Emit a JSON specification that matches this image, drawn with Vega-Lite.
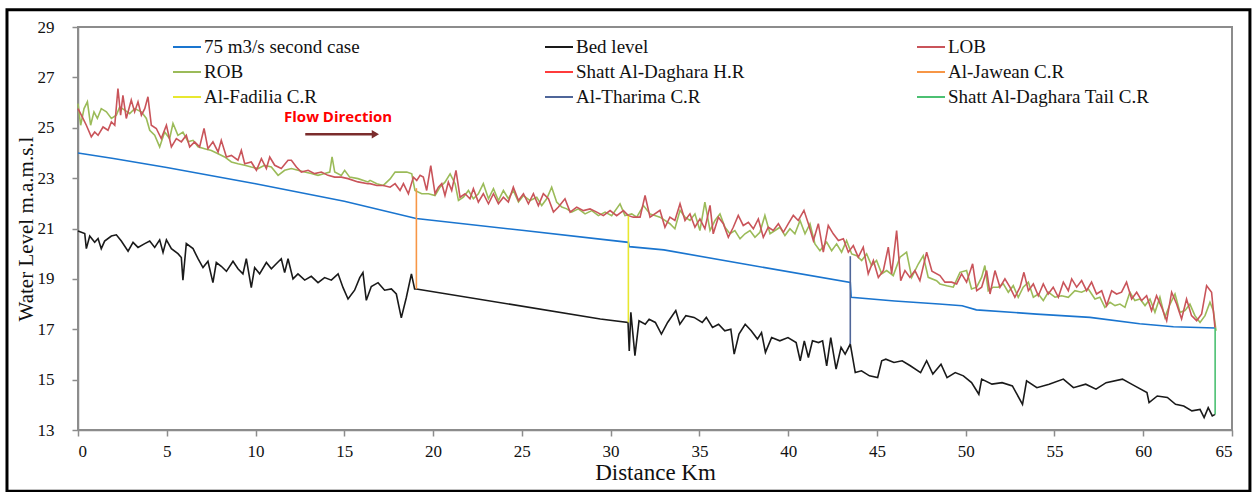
{
"$schema":"https://vega.github.io/schema/vega-lite/v6.json",
"width":1154,"height":403,
"autosize":{"type":"none"},
"padding":{"left":78,"top":27,"right":25,"bottom":62},
"background":"white",
"config":{
 "view":{"stroke":"#8c8c8c","strokeWidth":2},
 "font":"Liberation Serif",
 "axis":{"domainColor":"#8c8c8c","domainWidth":1.5,"tickColor":"#8c8c8c","tickWidth":1.5,"tickSize":6,"grid":false,"labelFont":"Liberation Serif","labelFontSize":17,"labelColor":"#111111","titleFont":"Liberation Serif","titleFontWeight":"normal","titleColor":"#111111"},
 "axisX":{"labelPadding":7,"titleFontSize":23,"titlePadding":2},
 "axisY":{"labelPadding":18,"titleFontSize":21,"titlePadding":1}
},
"datasets":{
"frame":[{"x1":-4.0,"x2":66.01,"y1":10.57,"y2":29.68}],
"arrow":[{"km":12.8,"level":24.74},{"km":16.6,"level":24.74}],
"head":[{"km":16.75,"level":24.74}],
"notes":[{"km":14.65,"level":25.41,"label":"Flow Direction"}],
"lines":[
{"series":"75 m3/s second case","km":0,"level":24.0},
{"series":"75 m3/s second case","km":2,"level":23.78},
{"series":"75 m3/s second case","km":5,"level":23.42},
{"series":"75 m3/s second case","km":10,"level":22.78},
{"series":"75 m3/s second case","km":15,"level":22.08},
{"series":"75 m3/s second case","km":19.05,"level":21.4},
{"series":"75 m3/s second case","km":25,"level":20.93},
{"series":"75 m3/s second case","km":31,"level":20.45},
{"series":"75 m3/s second case","km":31.05,"level":20.28},
{"series":"75 m3/s second case","km":33,"level":20.15},
{"series":"75 m3/s second case","km":38,"level":19.53},
{"series":"75 m3/s second case","km":43.5,"level":18.86},
{"series":"75 m3/s second case","km":43.55,"level":18.27},
{"series":"75 m3/s second case","km":46,"level":18.12},
{"series":"75 m3/s second case","km":48.5,"level":18.0},
{"series":"75 m3/s second case","km":49.8,"level":17.93},
{"series":"75 m3/s second case","km":50.6,"level":17.77},
{"series":"75 m3/s second case","km":54,"level":17.6},
{"series":"75 m3/s second case","km":57,"level":17.47},
{"series":"75 m3/s second case","km":59.8,"level":17.22},
{"series":"75 m3/s second case","km":61.7,"level":17.1},
{"series":"75 m3/s second case","km":64.05,"level":17.05},
{"series":"Bed level","km":0,"level":20.9},
{"series":"Bed level","km":0.38,"level":20.8},
{"series":"Bed level","km":0.47,"level":20.2},
{"series":"Bed level","km":0.66,"level":20.7},
{"series":"Bed level","km":0.94,"level":20.45},
{"series":"Bed level","km":1.13,"level":20.6},
{"series":"Bed level","km":1.31,"level":20.2},
{"series":"Bed level","km":1.5,"level":20.5},
{"series":"Bed level","km":1.88,"level":20.7},
{"series":"Bed level","km":2.16,"level":20.75},
{"series":"Bed level","km":2.44,"level":20.5},
{"series":"Bed level","km":2.82,"level":20.1},
{"series":"Bed level","km":3.1,"level":20.45},
{"series":"Bed level","km":3.38,"level":20.25},
{"series":"Bed level","km":3.76,"level":20.4},
{"series":"Bed level","km":4.04,"level":20.5},
{"series":"Bed level","km":4.32,"level":20.25},
{"series":"Bed level","km":4.6,"level":20.55},
{"series":"Bed level","km":4.79,"level":20.05},
{"series":"Bed level","km":4.98,"level":20.55},
{"series":"Bed level","km":5.26,"level":20.2},
{"series":"Bed level","km":5.63,"level":20.0},
{"series":"Bed level","km":5.82,"level":19.85},
{"series":"Bed level","km":5.91,"level":18.95},
{"series":"Bed level","km":6.1,"level":20.4},
{"series":"Bed level","km":6.48,"level":20.2},
{"series":"Bed level","km":6.76,"level":19.8},
{"series":"Bed level","km":7.04,"level":19.45},
{"series":"Bed level","km":7.32,"level":19.7},
{"series":"Bed level","km":7.6,"level":18.85},
{"series":"Bed level","km":7.79,"level":19.65},
{"series":"Bed level","km":8.07,"level":19.5},
{"series":"Bed level","km":8.36,"level":19.3},
{"series":"Bed level","km":8.73,"level":19.7},
{"series":"Bed level","km":9.01,"level":19.4},
{"series":"Bed level","km":9.29,"level":19.2},
{"series":"Bed level","km":9.48,"level":19.8},
{"series":"Bed level","km":9.76,"level":18.65},
{"series":"Bed level","km":9.95,"level":19.45},
{"series":"Bed level","km":10.23,"level":19.2},
{"series":"Bed level","km":10.61,"level":19.65},
{"series":"Bed level","km":10.89,"level":19.4},
{"series":"Bed level","km":11.17,"level":19.6},
{"series":"Bed level","km":11.45,"level":19.8},
{"series":"Bed level","km":11.64,"level":19.25},
{"series":"Bed level","km":11.83,"level":19.8},
{"series":"Bed level","km":12.11,"level":19.0},
{"series":"Bed level","km":12.39,"level":19.2},
{"series":"Bed level","km":12.77,"level":18.95},
{"series":"Bed level","km":13.14,"level":19.1},
{"series":"Bed level","km":13.52,"level":18.85},
{"series":"Bed level","km":13.89,"level":19.05},
{"series":"Bed level","km":14.27,"level":18.95},
{"series":"Bed level","km":14.65,"level":19.2},
{"series":"Bed level","km":14.93,"level":18.65},
{"series":"Bed level","km":15.21,"level":18.2},
{"series":"Bed level","km":15.58,"level":18.55},
{"series":"Bed level","km":15.87,"level":19.05},
{"series":"Bed level","km":16.05,"level":19.25},
{"series":"Bed level","km":16.24,"level":18.15},
{"series":"Bed level","km":16.52,"level":18.7},
{"series":"Bed level","km":16.9,"level":18.85},
{"series":"Bed level","km":17.27,"level":18.55},
{"series":"Bed level","km":17.65,"level":18.6},
{"series":"Bed level","km":17.93,"level":18.4},
{"series":"Bed level","km":18.21,"level":17.45},
{"series":"Bed level","km":18.49,"level":18.25},
{"series":"Bed level","km":18.78,"level":19.2},
{"series":"Bed level","km":18.96,"level":18.6},
{"series":"Bed level","km":19.06,"level":18.6},
{"series":"Bed level","km":29.42,"level":17.41},
{"series":"Bed level","km":30.98,"level":17.27},
{"series":"Bed level","km":31.05,"level":16.14},
{"series":"Bed level","km":31.14,"level":17.67},
{"series":"Bed level","km":31.37,"level":15.95},
{"series":"Bed level","km":31.6,"level":17.34},
{"series":"Bed level","km":31.95,"level":17.2},
{"series":"Bed level","km":32.17,"level":17.4},
{"series":"Bed level","km":32.52,"level":17.27},
{"series":"Bed level","km":32.86,"level":16.81},
{"series":"Bed level","km":33.21,"level":17.27},
{"series":"Bed level","km":33.67,"level":17.74},
{"series":"Bed level","km":33.9,"level":17.2},
{"series":"Bed level","km":34.24,"level":17.54},
{"series":"Bed level","km":34.7,"level":17.47},
{"series":"Bed level","km":35.16,"level":17.27},
{"series":"Bed level","km":35.39,"level":17.47},
{"series":"Bed level","km":35.74,"level":17.07},
{"series":"Bed level","km":36.08,"level":17.2},
{"series":"Bed level","km":36.43,"level":16.94},
{"series":"Bed level","km":36.77,"level":17.0},
{"series":"Bed level","km":36.96,"level":16.01},
{"series":"Bed level","km":37.23,"level":16.81},
{"series":"Bed level","km":37.58,"level":17.2},
{"series":"Bed level","km":37.92,"level":16.94},
{"series":"Bed level","km":38.27,"level":16.61},
{"series":"Bed level","km":38.5,"level":16.87},
{"series":"Bed level","km":38.72,"level":16.08},
{"series":"Bed level","km":39.07,"level":16.67},
{"series":"Bed level","km":39.53,"level":16.54},
{"series":"Bed level","km":39.99,"level":16.67},
{"series":"Bed level","km":40.45,"level":16.47},
{"series":"Bed level","km":40.68,"level":15.75},
{"series":"Bed level","km":40.91,"level":16.54},
{"series":"Bed level","km":41.14,"level":15.88},
{"series":"Bed level","km":41.37,"level":16.54},
{"series":"Bed level","km":41.71,"level":16.47},
{"series":"Bed level","km":41.94,"level":16.54},
{"series":"Bed level","km":42.17,"level":15.55},
{"series":"Bed level","km":42.4,"level":16.67},
{"series":"Bed level","km":42.7,"level":15.42},
{"series":"Bed level","km":42.98,"level":16.28},
{"series":"Bed level","km":43.21,"level":16.01},
{"series":"Bed level","km":43.5,"level":16.41},
{"series":"Bed level","km":43.78,"level":15.28},
{"series":"Bed level","km":44.13,"level":15.35},
{"series":"Bed level","km":44.58,"level":15.15},
{"series":"Bed level","km":45.04,"level":15.08},
{"series":"Bed level","km":45.27,"level":15.75},
{"series":"Bed level","km":45.5,"level":15.81},
{"series":"Bed level","km":45.96,"level":15.68},
{"series":"Bed level","km":46.42,"level":15.75},
{"series":"Bed level","km":46.88,"level":15.55},
{"series":"Bed level","km":47.46,"level":15.28},
{"series":"Bed level","km":47.8,"level":15.75},
{"series":"Bed level","km":48.15,"level":15.22},
{"series":"Bed level","km":48.61,"level":15.61},
{"series":"Bed level","km":48.95,"level":15.08},
{"series":"Bed level","km":49.41,"level":15.28},
{"series":"Bed level","km":49.87,"level":15.15},
{"series":"Bed level","km":50.33,"level":14.88},
{"series":"Bed level","km":50.74,"level":14.42},
{"series":"Bed level","km":50.9,"level":15.02},
{"series":"Bed level","km":51.48,"level":14.82},
{"series":"Bed level","km":52.05,"level":14.88},
{"series":"Bed level","km":52.63,"level":14.75},
{"series":"Bed level","km":53.2,"level":14.02},
{"series":"Bed level","km":53.43,"level":14.95},
{"series":"Bed level","km":54.01,"level":14.68},
{"series":"Bed level","km":54.7,"level":14.82},
{"series":"Bed level","km":55.5,"level":15.02},
{"series":"Bed level","km":56.07,"level":14.68},
{"series":"Bed level","km":56.76,"level":14.82},
{"series":"Bed level","km":57.34,"level":14.62},
{"series":"Bed level","km":57.91,"level":14.88},
{"series":"Bed level","km":58.83,"level":15.02},
{"series":"Bed level","km":59.52,"level":14.75},
{"series":"Bed level","km":60.21,"level":14.49},
{"series":"Bed level","km":60.33,"level":14.09},
{"series":"Bed level","km":60.79,"level":14.35},
{"series":"Bed level","km":61.36,"level":14.29},
{"series":"Bed level","km":61.82,"level":14.02},
{"series":"Bed level","km":62.28,"level":13.95},
{"series":"Bed level","km":62.74,"level":13.76},
{"series":"Bed level","km":63.2,"level":13.82},
{"series":"Bed level","km":63.43,"level":13.49},
{"series":"Bed level","km":63.66,"level":13.89},
{"series":"Bed level","km":63.89,"level":13.56},
{"series":"Bed level","km":64.05,"level":13.62},
{"series":"ROB","km":0,"level":25.96},
{"series":"ROB","km":0.15,"level":25.1},
{"series":"ROB","km":0.34,"level":25.76},
{"series":"ROB","km":0.53,"level":26.03},
{"series":"ROB","km":0.71,"level":25.1},
{"series":"ROB","km":0.9,"level":25.63},
{"series":"ROB","km":1.09,"level":25.37},
{"series":"ROB","km":1.31,"level":25.76},
{"series":"ROB","km":1.6,"level":25.63},
{"series":"ROB","km":1.88,"level":25.37},
{"series":"ROB","km":2.16,"level":25.5},
{"series":"ROB","km":2.35,"level":25.83},
{"series":"ROB","km":2.63,"level":25.7},
{"series":"ROB","km":2.91,"level":25.56},
{"series":"ROB","km":3.19,"level":25.76},
{"series":"ROB","km":3.57,"level":25.63},
{"series":"ROB","km":3.85,"level":25.37},
{"series":"ROB","km":4.04,"level":24.9},
{"series":"ROB","km":4.32,"level":24.7},
{"series":"ROB","km":4.6,"level":24.24},
{"series":"ROB","km":4.88,"level":24.83},
{"series":"ROB","km":5.16,"level":24.57},
{"series":"ROB","km":5.35,"level":25.17},
{"series":"ROB","km":5.63,"level":24.7},
{"series":"ROB","km":5.91,"level":24.83},
{"series":"ROB","km":6.2,"level":24.44},
{"series":"ROB","km":6.48,"level":24.5},
{"series":"ROB","km":6.76,"level":24.24},
{"series":"ROB","km":7.13,"level":24.17},
{"series":"ROB","km":7.51,"level":24.1},
{"series":"ROB","km":7.89,"level":23.97},
{"series":"ROB","km":8.26,"level":23.84},
{"series":"ROB","km":8.64,"level":23.64},
{"series":"ROB","km":9.01,"level":23.57},
{"series":"ROB","km":9.39,"level":23.51},
{"series":"ROB","km":9.76,"level":23.44},
{"series":"ROB","km":10.14,"level":23.38},
{"series":"ROB","km":10.51,"level":23.51},
{"series":"ROB","km":10.89,"level":23.44},
{"series":"ROB","km":11.27,"level":23.11},
{"series":"ROB","km":11.64,"level":23.31},
{"series":"ROB","km":12.02,"level":23.38},
{"series":"ROB","km":12.39,"level":23.31},
{"series":"ROB","km":12.77,"level":23.24},
{"series":"ROB","km":13.14,"level":23.18},
{"series":"ROB","km":13.52,"level":23.11},
{"series":"ROB","km":13.89,"level":23.18},
{"series":"ROB","km":14.18,"level":23.24},
{"series":"ROB","km":14.31,"level":23.84},
{"series":"ROB","km":14.46,"level":23.24},
{"series":"ROB","km":14.83,"level":23.11},
{"series":"ROB","km":15.02,"level":23.31},
{"series":"ROB","km":15.3,"level":23.04},
{"series":"ROB","km":15.77,"level":22.98},
{"series":"ROB","km":16.33,"level":22.85},
{"series":"ROB","km":16.45,"level":22.91},
{"series":"ROB","km":16.83,"level":22.78},
{"series":"ROB","km":17.2,"level":22.71},
{"series":"ROB","km":17.58,"level":22.97},
{"series":"ROB","km":17.86,"level":23.24},
{"series":"ROB","km":18.14,"level":23.24},
{"series":"ROB","km":18.52,"level":23.24},
{"series":"ROB","km":18.8,"level":23.17},
{"series":"ROB","km":18.98,"level":22.51},
{"series":"ROB","km":19.36,"level":22.38},
{"series":"ROB","km":19.74,"level":22.38},
{"series":"ROB","km":20.11,"level":22.31},
{"series":"ROB","km":20.39,"level":22.64},
{"series":"ROB","km":20.67,"level":22.84},
{"series":"ROB","km":20.96,"level":23.17},
{"series":"ROB","km":21.24,"level":22.78},
{"series":"ROB","km":21.43,"level":22.11},
{"series":"ROB","km":21.71,"level":22.24},
{"series":"ROB","km":21.99,"level":22.51},
{"series":"ROB","km":22.27,"level":22.18},
{"series":"ROB","km":22.55,"level":22.38},
{"series":"ROB","km":22.83,"level":22.78},
{"series":"ROB","km":23.12,"level":22.18},
{"series":"ROB","km":23.4,"level":22.58},
{"series":"ROB","km":23.68,"level":22.11},
{"series":"ROB","km":23.96,"level":22.51},
{"series":"ROB","km":24.24,"level":22.18},
{"series":"ROB","km":24.52,"level":22.51},
{"series":"ROB","km":24.81,"level":22.05},
{"series":"ROB","km":25.09,"level":22.31},
{"series":"ROB","km":25.46,"level":22.11},
{"series":"ROB","km":25.84,"level":22.24},
{"series":"ROB","km":26.12,"level":21.91},
{"series":"ROB","km":26.4,"level":22.18},
{"series":"ROB","km":26.68,"level":22.64},
{"series":"ROB","km":26.96,"level":22.05},
{"series":"ROB","km":27.25,"level":21.85},
{"series":"ROB","km":27.53,"level":21.78},
{"series":"ROB","km":27.81,"level":21.65},
{"series":"ROB","km":28.18,"level":21.78},
{"series":"ROB","km":28.56,"level":21.58},
{"series":"ROB","km":28.94,"level":21.71},
{"series":"ROB","km":29.31,"level":21.51},
{"series":"ROB","km":29.69,"level":21.65},
{"series":"ROB","km":30.06,"level":21.51},
{"series":"ROB","km":30.53,"level":21.98},
{"series":"ROB","km":30.81,"level":21.51},
{"series":"ROB","km":31.19,"level":21.58},
{"series":"ROB","km":31.47,"level":21.45},
{"series":"ROB","km":31.85,"level":21.91},
{"series":"ROB","km":32.22,"level":21.58},
{"series":"ROB","km":32.78,"level":21.45},
{"series":"ROB","km":33.06,"level":21.32},
{"series":"ROB","km":33.34,"level":21.19},
{"series":"ROB","km":33.62,"level":20.99},
{"series":"ROB","km":33.91,"level":21.72},
{"series":"ROB","km":34.19,"level":21.45},
{"series":"ROB","km":34.47,"level":21.32},
{"series":"ROB","km":34.75,"level":21.58},
{"series":"ROB","km":35.03,"level":20.92},
{"series":"ROB","km":35.31,"level":22.05},
{"series":"ROB","km":35.6,"level":20.92},
{"series":"ROB","km":35.88,"level":21.32},
{"series":"ROB","km":36.16,"level":21.58},
{"series":"ROB","km":36.44,"level":21.05},
{"series":"ROB","km":36.72,"level":20.79},
{"series":"ROB","km":37.0,"level":20.92},
{"series":"ROB","km":37.29,"level":20.59},
{"series":"ROB","km":37.57,"level":20.79},
{"series":"ROB","km":37.85,"level":20.92},
{"series":"ROB","km":38.13,"level":20.65},
{"series":"ROB","km":38.41,"level":20.85},
{"series":"ROB","km":38.69,"level":21.52},
{"series":"ROB","km":38.98,"level":20.79},
{"series":"ROB","km":39.26,"level":20.92},
{"series":"ROB","km":39.54,"level":21.05},
{"series":"ROB","km":39.82,"level":20.72},
{"series":"ROB","km":40.1,"level":20.99},
{"series":"ROB","km":40.38,"level":20.79},
{"series":"ROB","km":40.67,"level":21.32},
{"series":"ROB","km":40.95,"level":20.79},
{"series":"ROB","km":41.23,"level":21.19},
{"series":"ROB","km":41.51,"level":20.39},
{"series":"ROB","km":41.79,"level":20.12},
{"series":"ROB","km":42.17,"level":20.46},
{"series":"ROB","km":42.45,"level":20.12},
{"series":"ROB","km":42.73,"level":20.39},
{"series":"ROB","km":43.01,"level":20.06},
{"series":"ROB","km":43.29,"level":20.52},
{"series":"ROB","km":43.58,"level":19.99},
{"series":"ROB","km":43.86,"level":19.92},
{"series":"ROB","km":44.14,"level":19.73},
{"series":"ROB","km":44.42,"level":19.99},
{"series":"ROB","km":44.7,"level":19.53},
{"series":"ROB","km":44.98,"level":19.73},
{"series":"ROB","km":45.27,"level":19.2},
{"series":"ROB","km":45.55,"level":19.33},
{"series":"ROB","km":45.92,"level":19.13},
{"series":"ROB","km":46.3,"level":19.86},
{"series":"ROB","km":46.67,"level":20.06},
{"series":"ROB","km":46.96,"level":19.06},
{"series":"ROB","km":47.33,"level":19.59},
{"series":"ROB","km":47.61,"level":19.92},
{"series":"ROB","km":47.89,"level":19.06},
{"series":"ROB","km":48.36,"level":18.93},
{"series":"ROB","km":48.55,"level":18.8},
{"series":"ROB","km":48.93,"level":18.73},
{"series":"ROB","km":49.3,"level":18.67},
{"series":"ROB","km":49.68,"level":19.26},
{"series":"ROB","km":50.05,"level":19.33},
{"series":"ROB","km":50.33,"level":18.6},
{"series":"ROB","km":50.62,"level":18.67},
{"series":"ROB","km":50.9,"level":19.07},
{"series":"ROB","km":51.08,"level":19.53},
{"series":"ROB","km":51.27,"level":18.53},
{"series":"ROB","km":51.55,"level":18.67},
{"series":"ROB","km":51.84,"level":18.67},
{"series":"ROB","km":52.12,"level":18.8},
{"series":"ROB","km":52.4,"level":18.47},
{"series":"ROB","km":52.68,"level":18.73},
{"series":"ROB","km":52.96,"level":18.27},
{"series":"ROB","km":53.24,"level":18.67},
{"series":"ROB","km":53.53,"level":18.87},
{"series":"ROB","km":53.81,"level":18.27},
{"series":"ROB","km":54.09,"level":18.4},
{"series":"ROB","km":54.37,"level":18.14},
{"series":"ROB","km":54.65,"level":18.47},
{"series":"ROB","km":55.03,"level":18.27},
{"series":"ROB","km":55.4,"level":18.33},
{"series":"ROB","km":55.78,"level":18.27},
{"series":"ROB","km":56.15,"level":18.53},
{"series":"ROB","km":56.53,"level":18.47},
{"series":"ROB","km":56.91,"level":18.6},
{"series":"ROB","km":57.28,"level":18.2},
{"series":"ROB","km":57.56,"level":18.27},
{"series":"ROB","km":57.84,"level":17.87},
{"series":"ROB","km":58.13,"level":18.07},
{"series":"ROB","km":58.41,"level":17.94},
{"series":"ROB","km":58.69,"level":18.0},
{"series":"ROB","km":58.97,"level":17.87},
{"series":"ROB","km":59.25,"level":18.47},
{"series":"ROB","km":59.53,"level":18.14},
{"series":"ROB","km":59.82,"level":18.2},
{"series":"ROB","km":60.1,"level":17.94},
{"series":"ROB","km":60.38,"level":18.2},
{"series":"ROB","km":60.66,"level":17.67},
{"series":"ROB","km":60.94,"level":18.27},
{"series":"ROB","km":61.22,"level":17.47},
{"series":"ROB","km":61.51,"level":18.0},
{"series":"ROB","km":61.79,"level":18.4},
{"series":"ROB","km":62.07,"level":17.67},
{"series":"ROB","km":62.35,"level":17.74},
{"series":"ROB","km":62.63,"level":18.0},
{"series":"ROB","km":62.91,"level":17.54},
{"series":"ROB","km":63.2,"level":17.27},
{"series":"ROB","km":63.48,"level":17.54},
{"series":"ROB","km":63.76,"level":18.07},
{"series":"ROB","km":63.95,"level":17.74},
{"series":"ROB","km":64.1,"level":16.94},
{"series":"LOB","km":0,"level":25.76},
{"series":"LOB","km":0.19,"level":25.5},
{"series":"LOB","km":0.47,"level":25.1},
{"series":"LOB","km":0.75,"level":24.64},
{"series":"LOB","km":0.94,"level":24.83},
{"series":"LOB","km":1.13,"level":24.7},
{"series":"LOB","km":1.41,"level":25.03},
{"series":"LOB","km":1.69,"level":24.9},
{"series":"LOB","km":1.88,"level":25.23},
{"series":"LOB","km":2.07,"level":25.1},
{"series":"LOB","km":2.25,"level":26.56},
{"series":"LOB","km":2.4,"level":25.5},
{"series":"LOB","km":2.53,"level":26.29},
{"series":"LOB","km":2.72,"level":25.37},
{"series":"LOB","km":3.0,"level":26.1},
{"series":"LOB","km":3.19,"level":25.63},
{"series":"LOB","km":3.38,"level":26.03},
{"series":"LOB","km":3.57,"level":25.5},
{"series":"LOB","km":3.76,"level":25.76},
{"series":"LOB","km":3.94,"level":26.23},
{"series":"LOB","km":4.13,"level":25.1},
{"series":"LOB","km":4.41,"level":24.97},
{"series":"LOB","km":4.69,"level":24.57},
{"series":"LOB","km":4.98,"level":25.1},
{"series":"LOB","km":5.26,"level":24.24},
{"series":"LOB","km":5.54,"level":24.57},
{"series":"LOB","km":5.82,"level":24.44},
{"series":"LOB","km":6.1,"level":24.7},
{"series":"LOB","km":6.29,"level":24.24},
{"series":"LOB","km":6.57,"level":24.44},
{"series":"LOB","km":6.85,"level":24.24},
{"series":"LOB","km":7.1,"level":24.97},
{"series":"LOB","km":7.32,"level":24.17},
{"series":"LOB","km":7.6,"level":24.44},
{"series":"LOB","km":7.89,"level":24.04},
{"series":"LOB","km":8.07,"level":24.5},
{"series":"LOB","km":8.36,"level":23.84},
{"series":"LOB","km":8.64,"level":23.9},
{"series":"LOB","km":9.01,"level":23.71},
{"series":"LOB","km":9.2,"level":24.1},
{"series":"LOB","km":9.39,"level":23.57},
{"series":"LOB","km":9.76,"level":23.64},
{"series":"LOB","km":10.05,"level":23.31},
{"series":"LOB","km":10.33,"level":23.77},
{"series":"LOB","km":10.61,"level":23.38},
{"series":"LOB","km":10.8,"level":23.84},
{"series":"LOB","km":11.08,"level":23.51},
{"series":"LOB","km":11.45,"level":23.38},
{"series":"LOB","km":11.83,"level":23.71},
{"series":"LOB","km":12.02,"level":23.71},
{"series":"LOB","km":12.3,"level":23.44},
{"series":"LOB","km":12.58,"level":23.24},
{"series":"LOB","km":12.96,"level":23.31},
{"series":"LOB","km":13.33,"level":23.18},
{"series":"LOB","km":13.71,"level":23.24},
{"series":"LOB","km":14.08,"level":23.11},
{"series":"LOB","km":14.46,"level":23.04},
{"series":"LOB","km":14.83,"level":23.04},
{"series":"LOB","km":15.21,"level":22.98},
{"series":"LOB","km":15.77,"level":22.85},
{"series":"LOB","km":16.33,"level":22.78},
{"series":"LOB","km":16.45,"level":22.78},
{"series":"LOB","km":16.83,"level":22.71},
{"series":"LOB","km":17.2,"level":22.71},
{"series":"LOB","km":17.58,"level":22.64},
{"series":"LOB","km":17.86,"level":22.78},
{"series":"LOB","km":18.14,"level":22.51},
{"series":"LOB","km":18.33,"level":22.78},
{"series":"LOB","km":18.61,"level":22.38},
{"series":"LOB","km":18.89,"level":23.04},
{"series":"LOB","km":19.08,"level":22.91},
{"series":"LOB","km":19.27,"level":23.11},
{"series":"LOB","km":19.45,"level":23.04},
{"series":"LOB","km":19.64,"level":22.51},
{"series":"LOB","km":19.87,"level":23.5},
{"series":"LOB","km":20.11,"level":22.38},
{"series":"LOB","km":20.3,"level":22.64},
{"series":"LOB","km":20.49,"level":22.78},
{"series":"LOB","km":20.67,"level":22.31},
{"series":"LOB","km":20.86,"level":22.84},
{"series":"LOB","km":21.05,"level":22.51},
{"series":"LOB","km":21.29,"level":23.31},
{"series":"LOB","km":21.52,"level":22.24},
{"series":"LOB","km":21.8,"level":22.38},
{"series":"LOB","km":22.08,"level":22.18},
{"series":"LOB","km":22.27,"level":22.58},
{"series":"LOB","km":22.55,"level":22.05},
{"series":"LOB","km":22.83,"level":22.38},
{"series":"LOB","km":23.12,"level":21.98},
{"series":"LOB","km":23.4,"level":22.38},
{"series":"LOB","km":23.68,"level":21.98},
{"series":"LOB","km":23.96,"level":22.24},
{"series":"LOB","km":24.24,"level":22.05},
{"series":"LOB","km":24.52,"level":22.64},
{"series":"LOB","km":24.81,"level":22.11},
{"series":"LOB","km":25.09,"level":22.38},
{"series":"LOB","km":25.37,"level":21.98},
{"series":"LOB","km":25.65,"level":22.38},
{"series":"LOB","km":25.93,"level":21.91},
{"series":"LOB","km":26.21,"level":22.38},
{"series":"LOB","km":26.5,"level":22.18},
{"series":"LOB","km":26.78,"level":21.65},
{"series":"LOB","km":27.06,"level":21.85},
{"series":"LOB","km":27.43,"level":22.18},
{"series":"LOB","km":27.72,"level":21.65},
{"series":"LOB","km":28.09,"level":21.85},
{"series":"LOB","km":28.47,"level":21.71},
{"series":"LOB","km":28.84,"level":21.78},
{"series":"LOB","km":29.22,"level":21.65},
{"series":"LOB","km":29.59,"level":21.51},
{"series":"LOB","km":29.97,"level":21.71},
{"series":"LOB","km":30.34,"level":21.51},
{"series":"LOB","km":30.72,"level":21.71},
{"series":"LOB","km":31.0,"level":21.51},
{"series":"LOB","km":31.28,"level":21.45},
{"series":"LOB","km":31.66,"level":21.45},
{"series":"LOB","km":31.94,"level":22.31},
{"series":"LOB","km":32.22,"level":21.45},
{"series":"LOB","km":32.78,"level":21.72},
{"series":"LOB","km":33.06,"level":21.05},
{"series":"LOB","km":33.34,"level":21.45},
{"series":"LOB","km":33.62,"level":21.32},
{"series":"LOB","km":33.91,"level":21.98},
{"series":"LOB","km":34.19,"level":21.32},
{"series":"LOB","km":34.47,"level":21.58},
{"series":"LOB","km":34.75,"level":21.05},
{"series":"LOB","km":35.03,"level":21.38},
{"series":"LOB","km":35.31,"level":20.99},
{"series":"LOB","km":35.6,"level":21.92},
{"series":"LOB","km":35.78,"level":20.79},
{"series":"LOB","km":36.07,"level":21.45},
{"series":"LOB","km":36.35,"level":21.19},
{"series":"LOB","km":36.63,"level":20.65},
{"series":"LOB","km":36.91,"level":21.05},
{"series":"LOB","km":37.19,"level":21.52},
{"series":"LOB","km":37.47,"level":21.12},
{"series":"LOB","km":37.76,"level":21.25},
{"series":"LOB","km":38.04,"level":20.99},
{"series":"LOB","km":38.32,"level":21.38},
{"series":"LOB","km":38.6,"level":20.65},
{"series":"LOB","km":38.88,"level":21.05},
{"series":"LOB","km":39.16,"level":20.92},
{"series":"LOB","km":39.45,"level":21.19},
{"series":"LOB","km":39.73,"level":20.85},
{"series":"LOB","km":40.01,"level":21.19},
{"series":"LOB","km":40.29,"level":21.52},
{"series":"LOB","km":40.57,"level":21.32},
{"series":"LOB","km":40.89,"level":21.72},
{"series":"LOB","km":41.14,"level":21.19},
{"series":"LOB","km":41.42,"level":20.52},
{"series":"LOB","km":41.7,"level":21.19},
{"series":"LOB","km":41.98,"level":20.06},
{"series":"LOB","km":42.26,"level":21.12},
{"series":"LOB","km":42.54,"level":20.79},
{"series":"LOB","km":42.83,"level":20.52},
{"series":"LOB","km":43.11,"level":20.59},
{"series":"LOB","km":43.39,"level":20.06},
{"series":"LOB","km":43.67,"level":20.32},
{"series":"LOB","km":43.95,"level":19.86},
{"series":"LOB","km":44.23,"level":20.26},
{"series":"LOB","km":44.51,"level":19.2},
{"series":"LOB","km":44.8,"level":19.73},
{"series":"LOB","km":45.08,"level":19.06},
{"series":"LOB","km":45.36,"level":19.33},
{"series":"LOB","km":45.64,"level":20.26},
{"series":"LOB","km":45.83,"level":19.2},
{"series":"LOB","km":46.11,"level":20.92},
{"series":"LOB","km":46.34,"level":18.93},
{"series":"LOB","km":46.58,"level":19.33},
{"series":"LOB","km":46.86,"level":19.06},
{"series":"LOB","km":47.14,"level":19.33},
{"series":"LOB","km":47.42,"level":18.93},
{"series":"LOB","km":47.8,"level":20.06},
{"series":"LOB","km":48.1,"level":19.3},
{"series":"LOB","km":48.55,"level":19.13},
{"series":"LOB","km":48.83,"level":18.87},
{"series":"LOB","km":49.21,"level":18.87},
{"series":"LOB","km":49.49,"level":18.8},
{"series":"LOB","km":49.77,"level":19.2},
{"series":"LOB","km":50.05,"level":18.87},
{"series":"LOB","km":50.39,"level":19.6},
{"series":"LOB","km":50.62,"level":18.53},
{"series":"LOB","km":50.9,"level":18.67},
{"series":"LOB","km":51.18,"level":19.33},
{"series":"LOB","km":51.37,"level":18.4},
{"series":"LOB","km":51.65,"level":19.33},
{"series":"LOB","km":51.93,"level":18.67},
{"series":"LOB","km":52.21,"level":19.0},
{"series":"LOB","km":52.49,"level":18.67},
{"series":"LOB","km":52.77,"level":18.27},
{"series":"LOB","km":53.06,"level":18.67},
{"series":"LOB","km":53.28,"level":19.26},
{"series":"LOB","km":53.53,"level":18.53},
{"series":"LOB","km":53.81,"level":18.8},
{"series":"LOB","km":54.09,"level":18.33},
{"series":"LOB","km":54.37,"level":18.8},
{"series":"LOB","km":54.65,"level":18.4},
{"series":"LOB","km":54.93,"level":18.67},
{"series":"LOB","km":55.22,"level":18.27},
{"series":"LOB","km":55.5,"level":18.87},
{"series":"LOB","km":55.78,"level":18.53},
{"series":"LOB","km":55.97,"level":19.0},
{"series":"LOB","km":56.25,"level":18.67},
{"series":"LOB","km":56.53,"level":18.93},
{"series":"LOB","km":56.81,"level":18.53},
{"series":"LOB","km":57.09,"level":18.87},
{"series":"LOB","km":57.37,"level":18.4},
{"series":"LOB","km":57.66,"level":18.53},
{"series":"LOB","km":57.94,"level":17.94},
{"series":"LOB","km":58.22,"level":18.53},
{"series":"LOB","km":58.5,"level":18.4},
{"series":"LOB","km":58.78,"level":18.47},
{"series":"LOB","km":59.06,"level":18.87},
{"series":"LOB","km":59.35,"level":18.2},
{"series":"LOB","km":59.63,"level":18.47},
{"series":"LOB","km":59.91,"level":18.14},
{"series":"LOB","km":60.19,"level":18.33},
{"series":"LOB","km":60.47,"level":17.74},
{"series":"LOB","km":60.75,"level":18.33},
{"series":"LOB","km":61.04,"level":17.87},
{"series":"LOB","km":61.32,"level":17.34},
{"series":"LOB","km":61.6,"level":18.47},
{"series":"LOB","km":61.88,"level":18.0},
{"series":"LOB","km":62.16,"level":17.41},
{"series":"LOB","km":62.44,"level":18.2},
{"series":"LOB","km":62.72,"level":17.54},
{"series":"LOB","km":63.01,"level":17.34},
{"series":"LOB","km":63.29,"level":17.61},
{"series":"LOB","km":63.57,"level":18.73},
{"series":"LOB","km":63.85,"level":18.47},
{"series":"LOB","km":64.04,"level":17.07},
{"series":"Al-Jawean C.R","km":19.06,"level":18.6},
{"series":"Al-Jawean C.R","km":19.06,"level":22.6},
{"series":"Al-Fadilia C.R","km":31.0,"level":17.27},
{"series":"Al-Fadilia C.R","km":31.0,"level":21.5},
{"series":"Al-Tharima C.R","km":43.5,"level":16.41},
{"series":"Al-Tharima C.R","km":43.5,"level":19.9},
{"series":"Shatt Al-Daghara Tail C.R","km":64.05,"level":13.62},
{"series":"Shatt Al-Daghara Tail C.R","km":64.05,"level":17.05}
]},
"layer":[
{"data":{"name":"frame"},
 "mark":{"type":"rect","fill":null,"fillOpacity":0,"stroke":"#000000","strokeWidth":3,"clip":false},
 "encoding":{
  "x":{"field":"x1","type":"quantitative","scale":{"domain":[0,65],"nice":false,"zero":false},"title":"Distance Km","axis":{"values":[0,5,10,15,20,25,30,35,40,45,50,55,60,65]}},
  "x2":{"field":"x2"},
  "y":{"field":"y1","type":"quantitative","scale":{"domain":[13,29],"nice":false,"zero":false},"title":"Water Level m.a.m.s.l","axis":{"values":[13,15,17,19,21,23,25,27,29]}},
  "y2":{"field":"y2"}
 }},
{"data":{"name":"lines"},
 "mark":{"type":"line","strokeWidth":1.6},
 "encoding":{
  "x":{"field":"km","type":"quantitative","scale":{"domain":[0,65],"nice":false,"zero":false},"title":"Distance Km","axis":{"values":[0,5,10,15,20,25,30,35,40,45,50,55,60,65]}},
  "y":{"field":"level","type":"quantitative","scale":{"domain":[13,29],"nice":false,"zero":false},"title":"Water Level m.a.m.s.l","axis":{"values":[13,15,17,19,21,23,25,27,29]}},
  "color":{"field":"series","type":"nominal",
   "scale":{"domain":["75 m3/s second case","ROB","Al-Fadilia C.R","Bed level","Shatt Al-Daghara H.R","Al-Tharima C.R","LOB","Al-Jawean C.R","Shatt Al-Daghara Tail C.R"],
            "range":["#1a75cf","#9bbb59","#e8e830","#1a1a1a","#ff3b3b","#4f6699","#c9545a","#f79646","#4cc072"]},
   "legend":{"orient":"none","legendX":94,"legendY":5,"columns":3,"gridAlign":"all","columnPadding":134,"rowPadding":-4,"symbolType":"stroke","symbolSize":784,"symbolStrokeWidth":2,"labelFont":"Liberation Serif","labelFontSize":19,"labelColor":"#111111","labelOffset":2,"labelLimit":400,"title":null}}
 }},
{"data":{"name":"arrow"},
 "mark":{"type":"line","color":"#7b2c2c","strokeWidth":2.5},
 "encoding":{
  "x":{"field":"km","type":"quantitative","scale":{"domain":[0,65],"nice":false,"zero":false},"title":"Distance Km","axis":{"values":[0,5,10,15,20,25,30,35,40,45,50,55,60,65]}},
  "y":{"field":"level","type":"quantitative","scale":{"domain":[13,29],"nice":false,"zero":false},"title":"Water Level m.a.m.s.l","axis":{"values":[13,15,17,19,21,23,25,27,29]}}
 }},
{"data":{"name":"head"},
 "mark":{"type":"point","shape":"triangle-right","filled":true,"color":"#7b2c2c","size":70,"opacity":1},
 "encoding":{
  "x":{"field":"km","type":"quantitative","scale":{"domain":[0,65],"nice":false,"zero":false},"title":"Distance Km","axis":{"values":[0,5,10,15,20,25,30,35,40,45,50,55,60,65]}},
  "y":{"field":"level","type":"quantitative","scale":{"domain":[13,29],"nice":false,"zero":false},"title":"Water Level m.a.m.s.l","axis":{"values":[13,15,17,19,21,23,25,27,29]}}
 }},
{"data":{"name":"notes"},
 "mark":{"type":"text","color":"#ff0000","font":"Open Sans","fontWeight":"bold","fontSize":15,"align":"center","baseline":"middle"},
 "encoding":{
  "x":{"field":"km","type":"quantitative","scale":{"domain":[0,65],"nice":false,"zero":false},"title":"Distance Km","axis":{"values":[0,5,10,15,20,25,30,35,40,45,50,55,60,65]}},
  "y":{"field":"level","type":"quantitative","scale":{"domain":[13,29],"nice":false,"zero":false},"title":"Water Level m.a.m.s.l","axis":{"values":[13,15,17,19,21,23,25,27,29]}},
  "text":{"field":"label","type":"nominal"}
 }}
]
}
